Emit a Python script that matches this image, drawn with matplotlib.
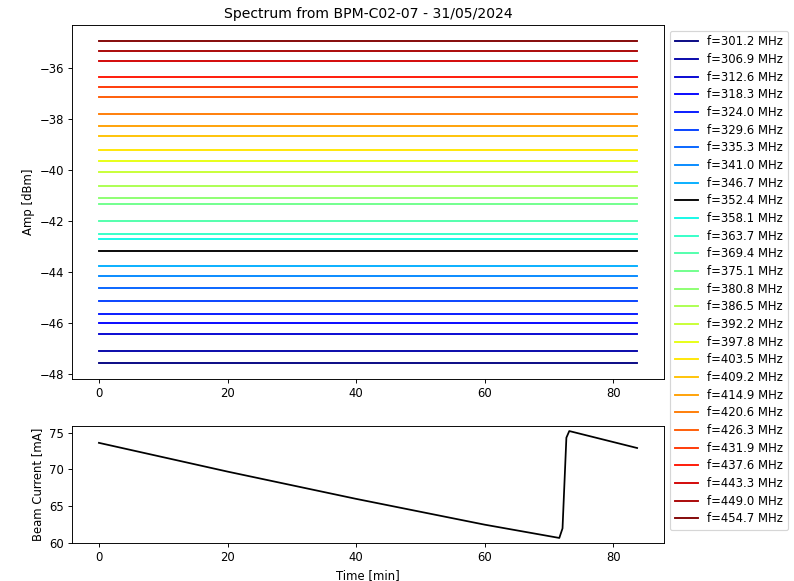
import numpy as np
import matplotlib
matplotlib.use("Agg")
import matplotlib.pyplot as plt

# Spectral lines: frequency [MHz] and mean amplitude level [dBm]
freqs = [301.2, 306.9, 312.6, 318.3, 324.0, 329.6, 335.3, 341.0, 346.7, 352.4,
         358.1, 363.7, 369.4, 375.1, 380.8, 386.5, 392.2, 397.8, 403.5, 409.2,
         414.9, 420.6, 426.3, 431.9, 437.6, 443.3, 449.0, 454.7]
levels = [-47.58, -47.13, -46.46, -46.03, -45.67, -45.14, -44.65, -44.15, -43.78, -43.19,
          -42.70, -42.50, -42.01, -41.34, -41.10, -40.63, -40.07, -39.66, -39.20, -38.66,
          -38.28, -37.79, -37.14, -36.76, -36.35, -35.73, -35.34, -34.94]
t_span = [0.0, 83.7]

# Beam current [mA] vs time [min]
beam_t = [0.0, 20.0, 40.0, 60.0, 71.6, 72.1, 72.7, 73.15, 83.7]
beam_i = [73.6, 69.7, 66.0, 62.5, 60.7, 62.0, 74.3, 75.2, 72.9]

fig = plt.figure(figsize=(794 / 84, 581 / 84), dpi=84)
ax = fig.add_axes([0.0907, 0.3477, 0.7456, 0.6093])
ax2 = fig.add_axes([0.0907, 0.0649, 0.7456, 0.2024])

colors = plt.cm.jet(np.linspace(0, 1, len(freqs)))
for i, (f, lvl) in enumerate(zip(freqs, levels)):
    c = "black" if abs(f - 352.4) < 0.05 else colors[i]
    ax.plot(t_span, [lvl, lvl], color=c, lw=1.6, label=f"f={f:.1f} MHz")

ax.set_title("Spectrum from BPM-C02-07 - 31/05/2024")
ax.set_ylabel("Amp [dBm]")
ax.set_yticks([-48, -46, -44, -42, -40, -38, -36])
ax.legend(loc="upper left", bbox_to_anchor=(1.0, 1.0), labelspacing=0.4)

ax2.plot(beam_t, beam_i, color="black", lw=1.5)
ax2.set_xlabel("Time [min]")
ax2.set_ylabel("Beam Current [mA]")
ax2.set_yticks([60, 65, 70, 75])
ax2.set_xlim(ax.get_xlim())

fig.savefig("out.png", dpi=84)
